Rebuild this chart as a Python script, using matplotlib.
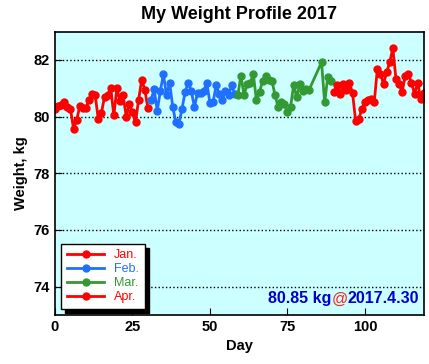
import matplotlib.pyplot as plt

plt.rcParams['font.family'] = ['Liberation Sans', 'DejaVu Sans']

# dados (dia 0 = 1 de janeiro)
jan_days = list(range(0, 31))
jan_w = [80.26, 80.37, 80.42, 80.5, 80.34, 80.28, 79.58, 79.87, 80.36, 80.3, 80.3,
         80.6, 80.8, 80.75, 79.9, 80.13, 80.7, 80.75, 81.0, 80.05, 81.0, 80.55,
         80.75, 80.0, 80.45, 80.15, 79.8, 80.6, 81.3, 80.95, 80.3]
feb_days = list(range(31, 59))
feb_w = [80.57, 80.98, 80.2, 80.9, 81.5, 80.75, 81.2, 80.35, 79.8, 79.75, 80.28,
         80.87, 81.2, 80.9, 80.34, 80.83, 80.83, 80.9, 81.2, 80.48, 80.5, 81.1,
         80.8, 80.6, 80.9, 80.75, 81.1, 80.8]
mar_days = list(range(59, 83)) + [86, 87, 88, 89]
mar_w = [80.75, 81.45, 80.75, 81.16, 81.2, 81.5, 80.57, 80.87, 81.27, 81.45, 81.3,
         81.27, 80.75, 80.34, 80.5, 80.45, 80.16, 80.34, 81.1, 80.69, 81.16, 80.9,
         80.98, 80.95, 81.92, 80.5, 81.4, 81.27]
apr_days = list(range(90, 120))
apr_w = [80.87, 81.1, 80.8, 81.16, 80.95, 81.2, 80.83, 79.85, 79.9, 80.28, 80.51,
         80.6, 80.63, 80.51, 81.68, 81.5, 81.16, 81.57, 81.92, 82.42, 81.33, 81.16,
         80.87, 81.45, 81.5, 81.2, 80.8, 81.2, 80.63, 80.85]

labels = ['Jan.', 'Feb.', 'Mar.', 'Apr.']
colors = ['#ff0000', '#2070ff', '#339933', '#ff0000']
series = [(jan_days, jan_w), (feb_days, feb_w), (mar_days, mar_w), (apr_days, apr_w)]

fig = plt.figure(figsize=(4.29, 3.64), dpi=100)
ax = fig.add_axes([0.128, 0.135, 0.86, 0.778])
ax.set_facecolor('#ccffff')

for (d, w), lab, c in zip(series, labels, colors):
    ax.plot(d, w, '-o', color=c, lw=2, ms=5, label=lab)

ax.set_xlim(0, 119)
ax.set_ylim(73, 83)
ax.set_xticks([0, 25, 50, 75, 100])
ax.set_yticks([74, 76, 78, 80, 82])
ax.yaxis.grid(True, linestyle=':', color='black', lw=1)
ax.tick_params(direction='in', length=5, labelsize=10.5)
for t in ax.get_xticklabels() + ax.get_yticklabels():
    t.set_fontweight('bold')
for s in ax.spines.values():
    s.set_linewidth(1.2)

ax.set_title('My Weight Profile 2017', fontsize=13, fontweight='bold', pad=9)
ax.set_xlabel('Day', fontsize=10.5, fontweight='bold')
ax.set_ylabel('Weight, kg', fontsize=10.5, fontweight='bold')

leg = ax.legend(loc='lower left', fontsize=9, labelcolor='linecolor', fancybox=False,
                shadow={'color': 'black', 'alpha': 1, 'ox': 3, 'oy': -3},
                framealpha=1, edgecolor='black',
                handlelength=3, borderpad=0.45, labelspacing=0.15)
leg.get_frame().set_linewidth(1)

# texto do ultimo valor (o @ em vermelho)
t1 = ax.annotate('2017.4.30', xy=(0.988, 0.03), xycoords='axes fraction', ha='right',
                 va='bottom', color='#0000cc', fontsize=11.5, fontweight='bold')
t2 = ax.annotate('@', xy=(0, 0), xycoords=t1, ha='right', va='bottom',
                 color='#ff2020', fontsize=11.5)
ax.annotate('80.85 kg', xy=(0, 0), xycoords=t2, ha='right', va='bottom',
            color='#0000cc', fontsize=11.5, fontweight='bold')

fig.savefig('out.png', dpi=100)
